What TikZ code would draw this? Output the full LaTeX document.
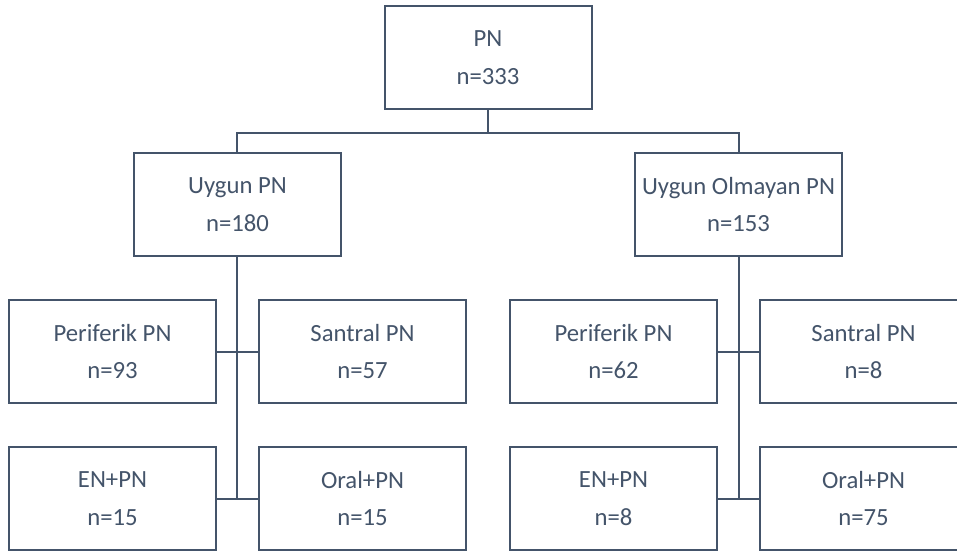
\documentclass[tikz,border=0pt]{standalone}
\usepackage{fontspec}
\setmainfont{Carlito}
\usetikzlibrary{positioning}
\definecolor{slate}{HTML}{44546A}
\tikzstyle{box} = [draw=slate,line width=2pt,fill=white,text=slate,minimum width=207pt,minimum height=103pt,inner sep=0pt,align=center,font=\fontsize{24.7}{37.5}\selectfont,execute at begin node={\rule{0pt}{24pt}}]
\tikzstyle{link} = [draw=slate,line width=2pt]

\begin{document}
\begin{tikzpicture}[node distance=147pt,on grid]
   \useasboundingbox (-488pt,57.5pt) rectangle (469pt,-497.5pt);
   \node[box] (pn) {PN\\n=333};
   \node[box] (uygun) [below left=147pt and 250.5pt of pn] {Uygun PN\\n=180};
   \node[box] (olmayan) [below right=147pt and 250.5pt of pn] {Uygun Olmayan PN\\n=153};

   \node[box] (perL) [below left=147pt and 125pt of uygun] {Periferik PN\\n=93};
   \node[box] (sanL) [below right=147pt and 125pt of uygun] {Santral PN\\n=57};
   \node[box] (enL) [below=of perL] {EN+PN\\n=15};
   \node[box] (oralL) [below=of sanL] {Oral+PN\\n=15};

   \node[box] (perR) [below left=147pt and 125pt of olmayan] {Periferik PN\\n=62};
   \node[box] (sanR) [below right=147pt and 125pt of olmayan] {Santral PN\\n=8};
   \node[box] (enR) [below=of perR] {EN+PN\\n=8};
   \node[box] (oralR) [below=of sanR] {Oral+PN\\n=75};

   \path[link] (pn.south) -- ++(0,-22.5pt) coordinate (bar);
   \path[link] (uygun.north) |- (bar) -| (olmayan.north);

   \path[link] (uygun.south) -- (uygun.south |- enL.east);
   \path[link] (perL.east) -- (sanL.west);
   \path[link] (enL.east) -- (oralL.west);

   \path[link] (olmayan.south) -- (olmayan.south |- enR.east);
   \path[link] (perR.east) -- (sanR.west);
   \path[link] (enR.east) -- (oralR.west);
  \end{tikzpicture}
\end{document}
